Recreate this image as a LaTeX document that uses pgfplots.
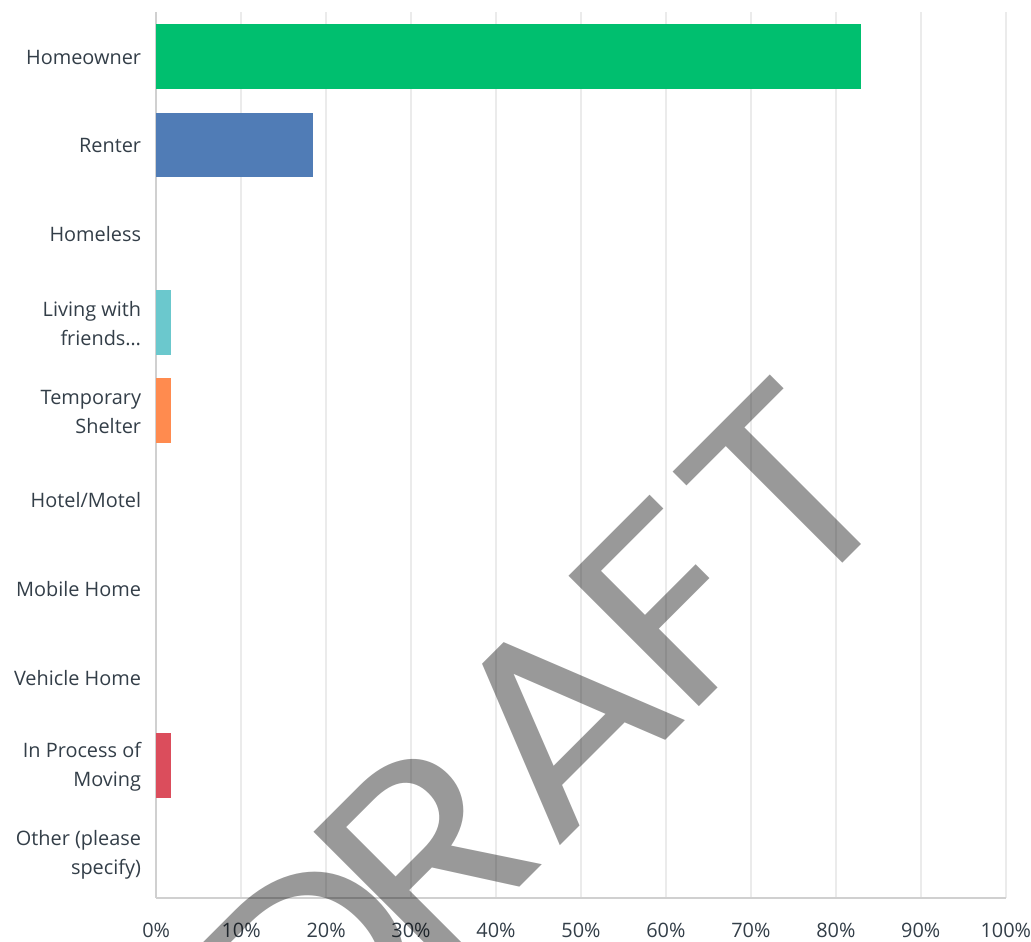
\documentclass[border=0pt]{standalone}
\usepackage{fontspec}
\setmainfont{Open Sans}
\newfontfamily\wmfont[FakeStretch=1.1]{Poppins}
\usepackage{pgfplots}
\pgfplotsset{compat=1.18}
\usetikzlibrary{calc}

\definecolor{cgreen}{HTML}{00BF6F}
\definecolor{cblue}{HTML}{507CB6}
\definecolor{cteal}{HTML}{6BC8CD}
\definecolor{corange}{HTML}{FF8B4F}
\definecolor{cred}{HTML}{DB4D5C}
\definecolor{labelc}{HTML}{333E48}
\definecolor{gridc}{HTML}{EBEBEB}
\definecolor{axisc}{HTML}{D0D0D0}

\begin{document}
\begin{tikzpicture}
\begin{axis}[
    name=ax, at={(0,0)}, anchor=south west,
    scale only axis, width=854pt, height=891pt,
    xmin=0, xmax=100, ymin=-0.5, ymax=9.5, y dir=reverse,
    xtick={0,10,...,100},
    xticklabels={0\%,10\%,20\%,30\%,40\%,50\%,60\%,70\%,80\%,90\%,100\%},
    ytick={0,...,9},
    yticklabels={Homeowner, Renter, Homeless, {Living with\\friends…},
      {Temporary\\Shelter}, Hotel/Motel, Mobile Home, Vehicle Home,
      {In Process of\\Moving}, {Other (please\\specify)}},
    axis x line*=bottom, axis y line*=left,
    axis line style={draw=axisc, line width=2pt, -},
    major tick length=0pt,
    xmajorgrids, grid style={draw=gridc, line width=2pt},
    ticklabel style={font=\fontsize{20}{29}\selectfont, text=labelc, inner sep=0pt},
    xticklabel style={anchor=north, yshift=-25pt},
    yticklabel style={align=right, anchor=east, xshift=-15pt, yshift=-1pt},
    xbar, bar shift=0pt, bar width=65pt,
    clip=false,
]
% Homeowner
\addplot[fill=cgreen, draw=none] coordinates {(83.0,0)};
% Renter
\addplot[fill=cblue, draw=none] coordinates {(18.4,1)};
% Living with friends
\addplot[fill=cteal, draw=none] coordinates {(1.7,3)};
% Temporary shelter
\addplot[fill=corange, draw=none] coordinates {(1.7,4)};
% In process of moving
\addplot[fill=cred, draw=none] coordinates {(1.7,8)};
% empty categories
\addplot[fill=none, draw=none] coordinates {(0,2) (0,5) (0,6) (0,7) (0,9)};
\end{axis}

% page = reference frame
\useasboundingbox ($(ax.south west)+(-157pt,-43pt)$) rectangle ($(ax.south west)+(874pt,903pt)$);
\begin{scope}
  \clip ($(ax.south west)+(-157pt,-43pt)$) rectangle ($(ax.south west)+(874pt,903pt)$);
  \node[rotate=45, anchor=base east, inner sep=0pt, text=black, text opacity=0.4,
        font=\wmfont\fontsize{266}{266}\selectfont]
    at ($(ax.south west)+(756pt,402pt)$) {D\kern-32pt R\kern0pt A\kern-12pt F\kern13pt T};
\end{scope}
\end{tikzpicture}
\end{document}
